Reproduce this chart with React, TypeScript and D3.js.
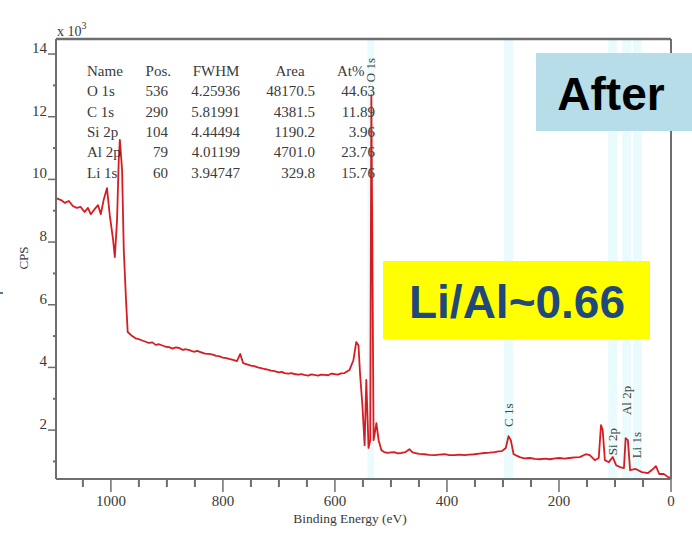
import React from "react";
import * as d3 from "d3";

// Spectrum (binding energy in eV, CPS in units of 10^3)
const bindingEnergy = [
  1098, 1089, 1082, 1075, 1068, 1061, 1054, 1047, 1041, 1036,
  1029, 1023, 1018, 1013, 1007, 1002, 996, 993, 989, 986,
  984, 980, 977, 973, 970, 962, 956, 950, 944, 938,
  932, 926, 920, 914, 908, 902, 896, 890, 884, 878,
  872, 866, 860, 852, 846, 840, 832, 825, 818, 812,
  807, 800, 794, 789, 782, 775, 769, 764, 757, 750,
  744, 738, 732, 726, 720, 714, 708, 700, 695, 690,
  683, 677, 673, 665, 660, 655, 648, 642, 637, 630,
  625, 619, 612, 607, 601, 595, 589, 583, 574, 567,
  562, 558, 555, 551, 547, 544, 540, 537, 535, 531,
  528, 526, 522, 517, 512, 506, 500, 494, 488, 481,
  474, 467, 462, 458, 450, 440, 432, 422, 414, 404,
  396, 386, 378, 369, 360, 351, 342, 333, 324, 315,
  308, 302, 295, 290, 286, 281, 270, 262, 252, 243,
  234, 225, 216, 207, 199, 190, 181, 172, 163, 152,
  145, 136, 129, 125, 122, 118, 111, 104, 98, 91,
  84, 81, 77, 73, 63, 52, 41, 32, 27, 21,
  13, 5, 0,
];
const cps = [
  9.4, 9.34, 9.25, 9.31, 9.15, 9.09, 9.12, 8.96, 9.09, 8.89,
  9.05, 9.18, 8.89, 9.34, 9.72, 8.86, 8.06, 7.52, 8.7, 10.62,
  11.26, 10.3, 7.75, 6.15, 5.13, 5.0, 4.93, 4.9, 4.86, 4.82,
  4.78, 4.8, 4.72, 4.74, 4.7, 4.66, 4.65, 4.6, 4.64, 4.62,
  4.56, 4.58, 4.55, 4.5, 4.53, 4.49, 4.44, 4.43, 4.41, 4.37,
  4.36, 4.31, 4.3, 4.27, 4.24, 4.2, 4.43, 4.14, 4.1, 4.06,
  4.04, 4.0, 3.98, 3.95, 3.93, 3.9, 3.88, 3.84, 3.86, 3.82,
  3.8, 3.82, 3.79, 3.77, 3.79, 3.76, 3.74, 3.78, 3.76, 3.74,
  3.77, 3.76, 3.75, 3.8, 3.79, 3.77, 3.81, 3.82, 3.92, 4.23,
  4.81, 4.71, 3.76, 2.8, 1.52, 3.6, 1.43, 1.68, 12.69, 1.68,
  2.0, 2.22, 1.68, 1.36, 1.3, 1.27, 1.29, 1.3, 1.26, 1.27,
  1.3, 1.39, 1.3, 1.27, 1.24, 1.23, 1.21, 1.2, 1.22, 1.23,
  1.2, 1.2, 1.22, 1.2, 1.22, 1.23, 1.25, 1.27, 1.28, 1.3,
  1.32, 1.33, 1.43, 1.81, 1.68, 1.23, 1.14, 1.1, 1.11, 1.08,
  1.07, 1.09, 1.07, 1.1, 1.11, 1.09, 1.11, 1.13, 1.14, 1.23,
  1.2, 1.04, 1.11, 2.16, 2.0, 1.04, 0.98, 1.14, 0.88, 0.82,
  0.79, 1.74, 1.68, 0.72, 0.76, 0.66, 0.63, 0.76, 0.85, 0.6,
  0.6, 0.5, 0.47,
];

// Quantification table
const tableHeaders = ["Name", "Pos.", "FWHM", "Area", "At%"];
const peakNames = ["O 1s", "C 1s", "Si 2p", "Al 2p", "Li 1s"];
const peakPos = [536, 290, 104, 79, 60];
const peakFwhm = ["4.25936", "5.81991", "4.44494", "4.01199", "3.94747"];
const peakArea = ["48170.5", "4381.5", "1190.2", "4701.0", "329.8"];
const peakAt = ["44.63", "11.89", "3.96", "23.76", "15.76"];
// peak annotation label heights (CPS x10^3, bottom of rotated label)
const peakLabelCps = [13.1, 2.1, 1.2, 2.48, 1.1];

const xTicksMajor = [1000, 800, 600, 400, 200, 0];
const yTicksMajor = [2, 4, 6, 8, 10, 12, 14];

const W = 692;
const H = 535;
const left = 56;
const right = 671;
const top = 39;
const bottom = 479;

export default function App() {
  const x = d3.scaleLinear().domain([1098, 0]).range([left, right]);
  const y = d3.scaleLinear().domain([0.44, 14.48]).range([bottom, top]);

  const n = Math.min(bindingEnergy.length, cps.length);
  const pts = d3.range(n).map((i) => [bindingEnergy[i], cps[i]] as [number, number]);
  const line = d3
    .line<[number, number]>()
    .x((d) => x(d[0]))
    .y((d) => y(d[1]));

  const xMinor = d3.range(0, 1100, 50).filter((v) => !xTicksMajor.includes(v));
  const yMinor = d3.range(1, 15, 2);

  const serif = "'Liberation Serif', 'DejaVu Serif', serif";
  const sans = "'Liberation Sans', Arial, sans-serif";
  const axisColor = "#6e6e6e";
  const textColor = "#3a3a3a";

  const rowBase = [76, 96, 117, 137, 157, 178];

  return (
    <svg
      width={W}
      height={H}
      style={{ position: "absolute", left: 0, top: 0, background: "#fff" }}
      xmlns="http://www.w3.org/2000/svg"
    >
      {/* peak bands */}
      {peakPos.map((p, i) => (
        <rect
          key={"band" + i}
          x={x(p + (i === 0 ? 6 : 8))}
          y={top}
          width={x(p - (i === 0 ? 6 : 8)) - x(p + (i === 0 ? 6 : 8))}
          height={bottom - top}
          fill="#eafbfd"
        />
      ))}

      {/* spectrum */}
      <path d={line(pts) || ""} fill="none" stroke="#d71d21" strokeWidth={1.8} strokeLinejoin="round" />

      {/* frame */}
      <line x1={left} x2={left} y1={top} y2={bottom} stroke={axisColor} strokeWidth={2} />
      <line x1={left} x2={right} y1={bottom} y2={bottom} stroke={axisColor} strokeWidth={2} />
      <line x1={left} x2={right} y1={top} y2={top} stroke={axisColor} strokeWidth={2.5} />
      <line x1={right} x2={right} y1={top} y2={bottom} stroke={axisColor} strokeWidth={2} />

      {/* y ticks */}
      {yTicksMajor.map((t) => (
        <g key={"yt" + t}>
          <line x1={left - 8} x2={left} y1={y(t)} y2={y(t)} stroke={axisColor} strokeWidth={1.5} />
          <text x={47} y={y(t) - 1} textAnchor="end" fontFamily={serif} fontSize={15} fill={textColor}>
            {t}
          </text>
        </g>
      ))}
      {yMinor.map((t) => (
        <line key={"ym" + t} x1={left - 3} x2={left + 1} y1={y(t)} y2={y(t)} stroke={axisColor} strokeWidth={2} />
      ))}

      {/* x ticks */}
      {xTicksMajor.map((t) => (
        <g key={"xt" + t}>
          <line x1={x(t)} x2={x(t)} y1={bottom} y2={bottom + 13} stroke={axisColor} strokeWidth={1.5} />
          <text x={x(t)} y={506} textAnchor="middle" fontFamily={serif} fontSize={15} fill={textColor}>
            {t}
          </text>
        </g>
      ))}
      {xMinor.map((t) => (
        <line key={"xm" + t} x1={x(t)} x2={x(t)} y1={bottom} y2={bottom + 8} stroke={axisColor} strokeWidth={2} />
      ))}

      {/* axis titles */}
      <text x={350} y={523} textAnchor="middle" fontFamily={serif} fontSize={13.5} fill={textColor}>
        Binding Energy (eV)
      </text>
      <text
        transform="translate(28,258) rotate(-90)"
        textAnchor="middle"
        fontFamily={serif}
        fontSize={13}
        fill={textColor}
      >
        CPS
      </text>
      <text x={57} y={36} fontFamily={serif} fontSize={14} fill={textColor}>
        x 10
        <tspan dy={-7} fontSize={10}>
          3
        </tspan>
      </text>

      {/* table */}
      <g fontFamily={serif} fontSize={15} fill={textColor}>
        <text x={87} y={rowBase[0]}>{tableHeaders[0]}</text>
        <text x={171} y={rowBase[0]} textAnchor="end">{tableHeaders[1]}</text>
        <text x={216} y={rowBase[0]} textAnchor="middle">{tableHeaders[2]}</text>
        <text x={290} y={rowBase[0]} textAnchor="middle">{tableHeaders[3]}</text>
        <text x={337} y={rowBase[0]}>{tableHeaders[4]}</text>
        {peakNames.map((nm, i) => (
          <g key={"row" + i}>
            <text x={87} y={rowBase[i + 1]}>{nm}</text>
            <text x={168} y={rowBase[i + 1]} textAnchor="end">{peakPos[i]}</text>
            <text x={240} y={rowBase[i + 1]} textAnchor="end">{peakFwhm[i]}</text>
            <text x={315} y={rowBase[i + 1]} textAnchor="end">{peakArea[i]}</text>
            <text x={375} y={rowBase[i + 1]} textAnchor="end">{peakAt[i]}</text>
          </g>
        ))}
      </g>

      {/* peak labels */}
      {peakNames.map((nm, i) => (
        <text
          key={"pl" + i}
          transform={`translate(${x(peakPos[i]) + 4},${y(peakLabelCps[i])}) rotate(-90)`}
          fontFamily={serif}
          fontSize={13}
          fill="#444"
        >
          {nm}
        </text>
      ))}

      {/* After box */}
      <rect x={536} y={53} width={W - 536} height={78} fill="#b7dde8" />
      <text x={611} y={110} textAnchor="middle" fontFamily={sans} fontWeight="bold" fontSize={46} fill="#000">
        After
      </text>

      {/* Li/Al box */}
      <rect x={383} y={261} width={267} height={78} fill="#ffff00" />
      <text x={517} y={318} textAnchor="middle" fontFamily={sans} fontWeight="bold" fontSize={46} fill="#1f497d">
        Li/Al~0.66
      </text>

      {/* small marker at left edge */}
      <line x1={0} x2={3} y1={293} y2={293} stroke="#1f497d" strokeWidth={1.5} />
    </svg>
  );
}
